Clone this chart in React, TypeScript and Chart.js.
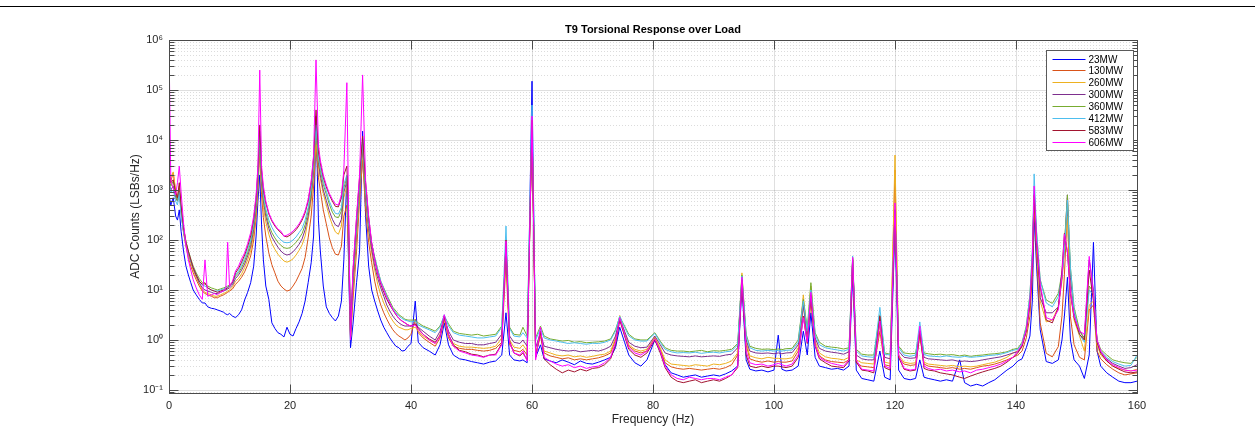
import React, { useEffect, useRef } from "react";
import { Chart, registerables } from "chart.js";

Chart.register(...registerables);

// ---------------- data ----------------
const FREQ_HZ = [
  0, 0.3, 0.7, 1.1, 1.4, 1.7, 2.0, 2.4, 2.8, 3.2, 3.6, 4.0, 4.5, 5.0, 5.5, 5.95, 6.4, 7.0, 7.5, 8.0, 8.5, 9.0, 9.4, 9.7, 10.0, 10.5, 11.0, 11.5, 12.0, 12.5, 13.0, 13.5, 14.0, 14.4, 14.7,
  15.0, 15.3, 15.6, 16.0, 16.5, 17.0, 17.5, 18.0, 18.5, 19.0, 19.5, 20.0, 20.5, 21.0, 21.5, 22.0, 22.5, 23.0, 23.5, 23.9,
  24.3, 24.7, 25.0, 25.5, 26.0, 26.5, 27.0, 27.5, 28.0, 28.5, 28.9, 29.4, 29.7, 30.0, 30.4, 31.0, 31.5, 32.0,
  32.5, 33.0, 33.5, 34.0, 34.5, 35.0, 35.5, 36.0, 36.5, 37.0, 37.5, 38.0, 38.5, 39.0, 39.5, 40.0,
  40.7, 41.2, 42, 43, 44, 44.8, 45.5, 46.2, 47, 48, 49, 50, 51, 52, 53, 54, 55, 55.7, 56.3, 57, 58, 58.5, 59.2, 60.0,
  60.6, 61.4, 62, 63, 64, 65, 66, 67, 68, 69, 70, 71, 72, 73, 73.8, 74.5, 75.3, 76, 77, 78, 79, 80.3,
  81.2, 82, 83, 84, 85, 86, 87, 88, 89, 90, 91, 92, 93, 94, 94.7, 95.4, 96, 97, 98, 99, 100,
  100.7, 101.3, 102, 103, 104, 104.85, 105.5, 106.1, 106.8, 107.5, 108.5, 109.5, 110.5, 111.5, 112.4, 113, 113.6, 114.5, 115.5, 116.5, 117.5, 118.3, 119.2, 120,
  120.6, 121.5, 122.5, 123.4, 124.1, 124.8, 125.5, 126.5, 127.5, 128.5, 129.5, 130.7, 131.5, 132.5, 133.5, 134.5, 135.5, 136.5, 137.5, 138.5, 139.5,
  140.3, 141, 141.7, 142.3, 142.7, 143, 143.4, 144, 145, 146, 147, 147.6, 148.0, 148.5, 149, 149.6, 150.5, 151.3, 152.1, 152.8, 153.4, 154, 155, 156, 157, 158, 159, 160,
];

const MW23 = [
  800, 500, 700, 300, 250, 400, 150, 60, 30, 20, 14, 10, 8, 6.5, 5.5, 5.5, 4.6, 4.3, 4.2, 4.0, 3.8, 3.6, 3.3, 3.2, 3.4, 3.0, 2.8, 3.2, 4, 6.3, 9, 14, 30, 120, 600,
  2000, 200, 40, 12, 6.5, 2.2, 1.7, 1.4, 1.3, 1.15, 1.8, 1.3, 1.2, 1.7, 2.3, 3.4, 6, 14, 35, 120,
  30000, 250, 63, 12, 4.6, 3.4, 2.8, 2.4, 3.0, 6, 40, 1900, 25, 0.7, 2, 14, 60, 15000,
  290, 30, 10, 6, 3.8, 2.5, 1.8, 1.4, 1.1, 0.9, 0.75, 0.7, 0.6, 0.62, 0.75, 0.85,
  6.0, 0.9, 0.7, 0.6, 0.5, 0.8, 2.2, 0.8, 0.5, 0.42, 0.4, 0.37, 0.35, 0.33, 0.36, 0.38, 0.5, 3.5, 0.5, 0.4, 0.38, 0.4, 0.35, 150000,
  0.45, 0.8, 0.42, 0.38, 0.35, 0.4, 0.36, 0.32, 0.38, 0.34, 0.33, 0.36, 0.4, 0.45, 0.7, 1.8, 0.9, 0.5, 0.35, 0.3, 0.4, 1.0,
  0.6, 0.32, 0.22, 0.2, 0.18, 0.19, 0.2, 0.18, 0.19, 0.2, 0.19, 0.21, 0.24, 0.3, 12, 0.4, 0.26, 0.24, 0.25, 0.23, 0.25,
  1.25, 0.26, 0.24, 0.25, 0.3, 1.5, 0.5, 3.5, 0.45, 0.3, 0.28, 0.26, 0.27, 0.25, 0.3, 20, 0.25, 0.17, 0.16, 0.15, 0.6, 0.18, 0.16, 200,
  0.25, 0.17, 0.16, 0.17, 0.4, 0.18, 0.17, 0.16, 0.15, 0.16, 0.15, 0.4, 0.14, 0.12, 0.13, 0.12, 0.14, 0.16, 0.2, 0.25, 0.3,
  0.38, 0.42, 0.7, 1.2, 6, 300, 30, 1.6, 0.37, 0.34, 0.4, 1.0, 3, 18, 1.0, 0.4, 0.3, 0.17, 0.5, 90, 0.6, 0.3, 0.22, 0.18, 0.15, 0.14, 0.14, 0.15,
];

const MW130 = [
  2500, 1500, 2200, 900, 600, 1000, 400, 140, 75, 45, 30, 22, 16, 12, 9.5, 8.5, 8, 7.5, 7, 7, 7.5, 8, 8.5, 9, 9.5, 10.5, 13, 15, 18, 23, 32, 48, 100, 280, 1000,
  6000, 800, 280, 120, 55, 32, 22, 15, 12, 10.5, 9.5, 10, 12, 15, 20, 27, 45, 110, 300, 1200,
  8000, 1800, 1000, 400, 210, 110, 70, 52, 50, 75, 300, 500, 40, 1.0, 6, 60, 600, 4000,
  400, 90, 35, 15, 8, 5, 3.5, 2.6, 2, 1.6, 1.35, 1.2, 1.1, 1.0, 1.1, 1.3,
  2.6, 1.4, 1.1, 0.9, 0.75, 1.1, 2.6, 1.1, 0.75, 0.68, 0.65, 0.65, 0.62, 0.6, 0.62, 0.68, 0.9, 35, 0.8, 0.62, 0.58, 0.65, 0.5, 20000,
  0.5, 1.2, 0.55, 0.48, 0.45, 0.42, 0.44, 0.4, 0.42, 0.4, 0.42, 0.44, 0.48, 0.55, 1.0, 2.7, 1.3, 0.75, 0.6, 0.55, 0.6, 1.1,
  0.65, 0.35, 0.29, 0.27, 0.26, 0.27, 0.26, 0.25, 0.26, 0.27, 0.26, 0.28, 0.32, 0.5, 17, 0.8, 0.42, 0.38, 0.36, 0.38, 0.36,
  0.37, 0.36, 0.36, 0.38, 0.6, 5, 1.0, 6, 0.8, 0.48, 0.4, 0.37, 0.36, 0.35, 0.4, 40, 0.35, 0.3, 0.29, 0.28, 1.5, 0.32, 0.3, 2500,
  0.45, 0.33, 0.31, 0.32, 1.2, 0.33, 0.3, 0.29, 0.28, 0.27, 0.28, 0.26, 0.27, 0.26, 0.28, 0.3, 0.31, 0.33, 0.36, 0.4, 0.45,
  0.5, 0.6, 1.1, 3, 20, 500, 50, 2.2, 0.54, 0.46, 0.74, 3, 20, 400, 2.9, 0.8, 0.45, 0.4, 4, 5, 0.6, 0.42, 0.32, 0.26, 0.22, 0.2, 0.21, 0.22,
];

const MW260 = [
  2000, 1800, 2300, 1000, 700, 1200, 400, 150, 80, 50, 35, 25, 18, 13, 10, 9, 8.5, 8, 7.5, 7.5, 8, 8.5, 9, 9.5, 10, 11.5, 15, 17, 21, 28, 40, 62, 130, 350, 1200,
  8000, 1200, 450, 230, 130, 85, 65, 52, 44, 38, 36, 38, 42, 50, 62, 80, 120, 250, 600, 2000,
  10000, 3000, 1700, 850, 500, 300, 200, 145, 130, 190, 700, 1200, 80, 1.1, 9, 110, 900, 6000,
  600, 140, 55, 25, 13, 8, 5.5, 4, 3, 2.4, 2.0, 1.8, 1.7, 1.6, 1.6, 1.7,
  1.8, 1.5, 1.2, 1.0, 0.85, 1.3, 2.8, 1.2, 0.85, 0.75, 0.72, 0.72, 0.7, 0.68, 0.7, 0.75, 1.1, 55, 1.0, 0.72, 0.68, 0.8, 0.6, 20000,
  0.55, 1.3, 0.6, 0.55, 0.5, 0.48, 0.5, 0.46, 0.48, 0.45, 0.47, 0.5, 0.52, 0.6, 1.1, 3.1, 1.4, 0.8, 0.65, 0.6, 0.65, 1.15,
  0.7, 0.4, 0.33, 0.32, 0.31, 0.3, 0.32, 0.31, 0.3, 0.33, 0.32, 0.34, 0.38, 0.55, 22, 0.9, 0.48, 0.44, 0.42, 0.45, 0.43,
  0.43, 0.42, 0.42, 0.44, 0.7, 8, 1.2, 12, 0.95, 0.55, 0.46, 0.43, 0.42, 0.4, 0.45, 44, 0.4, 0.35, 0.34, 0.33, 2.0, 0.36, 0.34, 5000,
  0.5, 0.36, 0.34, 0.35, 1.4, 0.36, 0.33, 0.32, 0.31, 0.3, 0.31, 0.29, 0.3, 0.29, 0.3, 0.32, 0.34, 0.36, 0.4, 0.45, 0.55,
  0.6, 0.75, 1.5, 5, 40, 700, 90, 6, 2.3, 2.5, 4.6, 15, 60, 300, 10, 2.5, 1.2, 0.6, 5, 6, 0.8, 0.5, 0.38, 0.3, 0.27, 0.25, 0.24, 0.26,
];

const MW300 = [
  1500, 1000, 1200, 700, 600, 1000, 350, 150, 85, 55, 38, 27, 19, 14, 11, 10, 9.5, 9, 8.5, 8.5, 9, 9.5, 10, 10.5, 11, 12.5, 17, 20, 25, 33, 48, 75, 160, 450, 1500,
  10000, 1500, 600, 300, 170, 115, 90, 72, 60, 53, 50, 52, 58, 68, 82, 105, 160, 300, 750, 2500,
  30000, 3500, 2000, 1000, 620, 380, 260, 200, 185, 260, 900, 1500, 100, 1.3, 12, 150, 1100, 8000,
  700, 170, 65, 30, 17, 11, 7.5, 5, 3.8, 3, 2.5, 2.2, 2.0, 1.9, 1.9, 1.9,
  2.1, 1.8, 1.5, 1.2, 1.0, 1.5, 2.8, 1.5, 1.0, 0.9, 0.85, 0.85, 0.8, 0.8, 0.85, 0.9, 1.3, 65, 1.2, 0.9, 0.85, 1.0, 0.75, 20000,
  0.7, 1.4, 0.75, 0.7, 0.65, 0.62, 0.6, 0.62, 0.58, 0.6, 0.62, 0.6, 0.65, 0.75, 1.2, 2.6, 1.5, 0.9, 0.75, 0.7, 0.72, 1.2,
  0.8, 0.55, 0.5, 0.48, 0.47, 0.46, 0.48, 0.46, 0.47, 0.48, 0.47, 0.5, 0.52, 0.7, 18, 1.0, 0.6, 0.55, 0.54, 0.55, 0.53,
  0.55, 0.53, 0.55, 0.56, 0.8, 5, 1.3, 9, 1.1, 0.68, 0.6, 0.57, 0.55, 0.52, 0.58, 42, 0.5, 0.42, 0.4, 0.4, 2.6, 0.45, 0.42, 400,
  0.6, 0.45, 0.43, 0.44, 1.5, 0.45, 0.42, 0.41, 0.4, 0.39, 0.4, 0.37, 0.38, 0.37, 0.38, 0.4, 0.42, 0.44, 0.46, 0.5, 0.55,
  0.58, 0.78, 1.6, 6, 45, 900, 110, 7, 3.5, 3.5, 4.6, 18, 70, 800, 18, 3.5, 1.5, 1.1, 40, 10, 0.95, 0.58, 0.42, 0.34, 0.3, 0.27, 0.28, 0.32,
];

const MW360 = [
  1800, 1200, 1500, 800, 600, 1100, 400, 170, 95, 60, 42, 30, 22, 17, 14, 13, 12, 11, 10.5, 10, 10.5, 11, 11.5, 12, 12.5, 14, 19, 22, 28, 38, 55, 90, 190, 500, 1800,
  12000, 1800, 700, 360, 200, 140, 110, 90, 78, 70, 68, 70, 78, 90, 108, 135, 200, 380, 900, 3000,
  15000, 4000, 2500, 1300, 820, 520, 360, 290, 280, 380, 1100, 1800, 120, 1.5, 16, 180, 1300, 9000,
  900, 210, 85, 45, 26, 15, 11, 8, 6, 4.5, 3.8, 3.2, 2.9, 2.6, 2.5, 2.5,
  2.5, 2.2, 1.9, 1.7, 1.5, 1.9, 3.0, 2.1, 1.5, 1.35, 1.3, 1.25, 1.3, 1.2, 1.25, 1.3, 1.9, 80, 1.8, 1.3, 1.25, 1.8, 1.2, 20000,
  1.1, 1.9, 1.2, 1.05, 1.0, 0.95, 0.98, 0.9, 0.93, 0.88, 0.9, 0.92, 0.95, 1.05, 1.6, 2.9, 1.9, 1.3, 1.05, 1.0, 1.0, 1.4,
  0.95, 0.7, 0.62, 0.6, 0.6, 0.58, 0.6, 0.62, 0.58, 0.61, 0.6, 0.62, 0.65, 0.85, 20, 1.3, 0.75, 0.68, 0.65, 0.66, 0.64,
  0.66, 0.64, 0.67, 0.68, 1.0, 6.5, 1.7, 14, 1.4, 0.9, 0.75, 0.72, 0.7, 0.66, 0.7, 45, 0.65, 0.52, 0.5, 0.5, 3.2, 0.55, 0.52, 400,
  0.75, 0.55, 0.53, 0.54, 1.6, 0.55, 0.53, 0.51, 0.52, 0.5, 0.51, 0.48, 0.5, 0.47, 0.49, 0.5, 0.52, 0.53, 0.55, 0.58, 0.65,
  0.68, 0.9, 1.9, 8, 55, 1000, 140, 16, 6.3, 5.4, 8.6, 22, 80, 800, 28, 4.5, 1.6, 1.0, 12, 9, 1.0, 0.65, 0.5, 0.4, 0.37, 0.35, 0.34, 0.45,
];

const MW412 = [
  1500, 900, 1000, 600, 500, 900, 300, 150, 85, 55, 38, 28, 20, 15, 12.5, 12, 11, 10, 9.5, 9.5, 10, 10.5, 11, 11.5, 12, 13.5, 20, 24, 32, 43, 65, 100, 220, 600, 2000,
  15000, 2000, 800, 420, 250, 180, 140, 115, 100, 90, 88, 90, 100, 115, 140, 170, 250, 450, 1100, 3500,
  20000, 4500, 2800, 1500, 950, 600, 430, 340, 330, 450, 1300, 2000, 150, 1.5, 18, 200, 1400, 10000,
  1000, 220, 85, 45, 25, 15, 10.5, 7.5, 5.5, 4.2, 3.5, 3.0, 2.7, 2.5, 2.4, 2.3,
  2.4, 2.0, 1.8, 1.6, 1.4, 1.8, 3.2, 1.9, 1.4, 1.25, 1.2, 1.15, 1.1, 1.1, 1.15, 1.2, 1.8, 190, 1.7, 1.2, 1.15, 1.4, 1.1, 50000,
  1.0, 1.7, 1.1, 1.0, 0.95, 0.9, 0.85, 0.88, 0.85, 0.82, 0.86, 0.85, 0.9, 1.0, 1.5, 3.0, 1.8, 1.2, 1.0, 0.95, 0.95, 1.35,
  0.9, 0.65, 0.58, 0.55, 0.56, 0.55, 0.57, 0.54, 0.56, 0.57, 0.55, 0.58, 0.6, 0.8, 19, 1.2, 0.7, 0.62, 0.6, 0.62, 0.6,
  0.62, 0.6, 0.62, 0.63, 0.9, 6, 1.5, 10, 1.3, 0.8, 0.7, 0.66, 0.63, 0.6, 0.65, 48, 0.6, 0.48, 0.46, 0.45, 4.5, 0.52, 0.5, 400,
  0.7, 0.5, 0.47, 0.5, 2.3, 0.52, 0.48, 0.47, 0.46, 0.48, 0.46, 0.45, 0.47, 0.45, 0.46, 0.47, 0.49, 0.5, 0.52, 0.56, 0.62,
  0.65, 0.85, 1.8, 8, 60, 2100, 150, 16, 5.5, 4.6, 7.4, 20, 60, 630, 28, 4, 1.3, 0.9, 10, 8, 0.9, 0.6, 0.45, 0.37, 0.33, 0.3, 0.31, 0.5,
];

const MW583 = [
  2500, 1400, 1600, 900, 700, 1400, 500, 180, 90, 60, 40, 28, 20, 15, 13, 14, 11, 10, 9.5, 9, 9.5, 10, 10.5, 11, 12, 14, 22, 27, 36, 50, 75, 120, 260, 700, 2500,
  20000, 2500, 1000, 550, 330, 240, 190, 160, 140, 120, 115, 125, 140, 160, 195, 250, 350, 600, 1400, 4500,
  40000, 6000, 3500, 1800, 1150, 800, 600, 470, 460, 700, 2000, 3000, 250, 1.2, 22, 270, 1800, 12000,
  1400, 280, 85, 40, 21, 13, 9, 6.5, 5, 4, 3.2, 2.7, 2.4, 2.2, 2.0, 1.9,
  2.1, 1.7, 1.3, 1.05, 0.9, 1.2, 3.0, 1.3, 0.8, 0.62, 0.58, 0.52, 0.5, 0.46, 0.5, 0.52, 0.85, 100, 0.95, 0.55, 0.48, 0.55, 0.4, 25000,
  0.45, 1.5, 0.42, 0.32, 0.26, 0.22, 0.25, 0.23, 0.26, 0.24, 0.27, 0.28, 0.32, 0.42, 0.8, 2.5, 1.2, 0.65, 0.5, 0.45, 0.55, 1.0,
  0.55, 0.28, 0.18, 0.15, 0.14, 0.15, 0.16, 0.14, 0.15, 0.16, 0.15, 0.17, 0.2, 0.28, 16, 0.5, 0.3, 0.28, 0.3, 0.28, 0.3,
  0.3, 0.29, 0.28, 0.3, 0.45, 3.0, 0.85, 8, 0.75, 0.42, 0.35, 0.3, 0.29, 0.28, 0.38, 40, 0.36, 0.25, 0.24, 0.22, 3.0, 0.28, 0.25, 400,
  0.45, 0.26, 0.24, 0.25, 1.5, 0.27, 0.25, 0.24, 0.22, 0.21, 0.2, 0.18, 0.17, 0.19, 0.21, 0.23, 0.25, 0.27, 0.3, 0.36, 0.45,
  0.55, 0.75, 1.5, 5, 35, 800, 90, 12, 2.5, 2.2, 4.5, 25, 135, 55, 8.6, 2.8, 1.3, 1.0, 25, 6, 0.9, 0.55, 0.38, 0.3, 0.26, 0.23, 0.22, 0.23,
];

const MW606 = [
  900000, 1500, 1100, 800, 1400, 3000, 900, 220, 80, 40, 25, 16, 11, 8, 6.5, 40, 7.5, 8, 8.5, 8, 9, 9.5, 11, 90, 12, 15, 24, 30, 42, 55, 85, 140, 300, 800, 3000,
  250000, 3000, 1200, 600, 350, 250, 200, 165, 150, 118, 125, 135, 150, 175, 210, 270, 380, 650, 1500, 5000,
  400000, 8000, 4000, 2000, 1260, 850, 650, 520, 500, 800, 2500, 140000, 300, 1.0, 25, 300, 2000, 200000,
  1500, 300, 90, 40, 22, 14, 10, 7, 5.5, 4, 3.3, 2.7, 2.4, 2.2, 2.0, 1.9,
  2.0, 1.6, 1.3, 1.0, 0.85, 1.2, 3.2, 1.3, 0.75, 0.6, 0.55, 0.5, 0.48, 0.45, 0.5, 0.5, 0.8, 95, 0.9, 0.55, 0.5, 0.6, 0.38, 30000,
  0.4, 1.8, 0.45, 0.38, 0.33, 0.3, 0.32, 0.28, 0.3, 0.27, 0.29, 0.3, 0.35, 0.45, 0.9, 2.8, 1.3, 0.7, 0.55, 0.5, 0.6, 1.05,
  0.6, 0.3, 0.2, 0.17, 0.16, 0.18, 0.17, 0.16, 0.17, 0.17, 0.16, 0.18, 0.2, 0.3, 18, 0.6, 0.35, 0.32, 0.33, 0.3, 0.32,
  0.34, 0.32, 0.3, 0.33, 0.5, 2.8, 0.9, 9, 0.8, 0.45, 0.38, 0.34, 0.32, 0.3, 0.4, 45, 0.4, 0.26, 0.25, 0.24, 2.4, 0.3, 0.27, 550,
  0.5, 0.27, 0.25, 0.26, 1.9, 0.3, 0.27, 0.25, 0.26, 0.24, 0.25, 0.23, 0.24, 0.22, 0.25, 0.26, 0.28, 0.3, 0.33, 0.38, 0.45,
  0.6, 0.8, 1.6, 6, 40, 1200, 100, 13, 2.8, 2.5, 4, 20, 130, 60, 9, 3, 1.5, 1.3, 47, 8, 1.0, 0.6, 0.4, 0.32, 0.28, 0.25, 0.24, 0.25,
];

const SERIES_LABELS = ["23MW", "130MW", "260MW", "300MW", "360MW", "412MW", "583MW", "606MW"];
const SERIES_VALUES = [MW23, MW130, MW260, MW300, MW360, MW412, MW583, MW606];
const X_TICK_VALUES = [0, 20, 40, 60, 80, 100, 120, 140, 160];
const Y_TICK_POWERS = [-1, 0, 1, 2, 3, 4, 5, 6];
const TITLE = "T9 Torsional Response over Load";
const X_LABEL = "Frequency (Hz)";
const Y_LABEL = "ADC Counts (LSBs/Hz)";

// ---------------- styles ----------------
const COLORS = ["#0000FF", "#D95319", "#EDB120", "#7E2F8E", "#77AC30", "#4DBEEE", "#A2142F", "#FF00FF"];
const FONT = '"Liberation Sans", Arial, Helvetica, sans-serif';
const AXIS_COLOR = "#262626";
const BOX_COLOR = "#4a4a4a";
const Y_MIN = 0.087;
const Y_MAX = 1e6;

const SUP: Record<string, string> = {
  "-": "\u207B", "0": "\u2070", "1": "\u00B9", "2": "\u00B2", "3": "\u00B3",
  "4": "\u2074", "5": "\u2075", "6": "\u2076", "7": "\u2077", "8": "\u2078", "9": "\u2079",
};
const supText = (n: number) => String(n).split("").map((c) => SUP[c] || c).join("");

const framePlugin = {
  id: "matlabFrame",
  beforeDatasetsDraw(chart: any) {
    const { ctx, chartArea: a, scales } = chart;
    const xs = scales.x;
    const ys = scales.y;
    ctx.save();
    ctx.lineWidth = 1;
    // minor y grid (dotted)
    ctx.strokeStyle = "rgba(38,38,38,0.16)";
    ctx.setLineDash([1, 2]);
    for (let p = -2; p <= 5; p++) {
      for (let k = 2; k <= 9; k++) {
        const v = k * Math.pow(10, p);
        if (v <= Y_MIN || v >= Y_MAX) continue;
        const y = Math.round(ys.getPixelForValue(v)) + 0.5;
        ctx.beginPath();
        ctx.moveTo(a.left, y);
        ctx.lineTo(a.right, y);
        ctx.stroke();
      }
    }
    ctx.setLineDash([]);
    // major grid
    ctx.strokeStyle = "rgba(38,38,38,0.15)";
    Y_TICK_POWERS.forEach((p) => {
      const y = Math.round(ys.getPixelForValue(Math.pow(10, p))) + 0.5;
      ctx.beginPath();
      ctx.moveTo(a.left, y);
      ctx.lineTo(a.right, y);
      ctx.stroke();
    });
    X_TICK_VALUES.forEach((v) => {
      const x = Math.round(xs.getPixelForValue(v)) + 0.5;
      ctx.beginPath();
      ctx.moveTo(x, a.top);
      ctx.lineTo(x, a.bottom);
      ctx.stroke();
    });
    ctx.restore();
  },
  afterDatasetsDraw(chart: any) {
    const { ctx, chartArea: a, scales } = chart;
    const xs = scales.x;
    const ys = scales.y;
    ctx.save();
    ctx.lineWidth = 1;
    ctx.strokeStyle = BOX_COLOR;
    const L = Math.round(a.left) + 0.5;
    const R = Math.round(a.right) + 0.5;
    const T = Math.round(a.top) + 0.5;
    const B = Math.round(a.bottom) + 0.5;
    ctx.strokeRect(L, T, R - L, B - T);
    // y ticks (inside, both sides)
    for (let p = -2; p <= 6; p++) {
      for (let k = 1; k <= 9; k++) {
        const v = k * Math.pow(10, p);
        if (v < Y_MIN || v > Y_MAX) continue;
        const len = k === 1 ? 9 : 5;
        const y = Math.round(ys.getPixelForValue(v)) + 0.5;
        ctx.beginPath();
        ctx.moveTo(L, y);
        ctx.lineTo(L + len, y);
        ctx.moveTo(R, y);
        ctx.lineTo(R - len, y);
        ctx.stroke();
      }
    }
    X_TICK_VALUES.forEach((v) => {
      const x = Math.round(xs.getPixelForValue(v)) + 0.5;
      ctx.beginPath();
      ctx.moveTo(x, B);
      ctx.lineTo(x, B - 9);
      ctx.moveTo(x, T);
      ctx.lineTo(x, T + 9);
      ctx.stroke();
    });
    ctx.restore();
  },
  afterDraw(chart: any) {
    const { ctx, chartArea: a } = chart;
    ctx.save();
    // title
    ctx.fillStyle = "#000";
    ctx.font = `bold 11px ${FONT}`;
    ctx.textAlign = "center";
    ctx.textBaseline = "middle";
    ctx.fillText(TITLE, (a.left + a.right) / 2, 29.5);
    // legend
    const bx = 1046.5, by = 50.5, bw = 87, bh = 100;
    ctx.fillStyle = "#fff";
    ctx.fillRect(bx, by, bw, bh);
    ctx.strokeStyle = "#5a5a5a";
    ctx.lineWidth = 1;
    ctx.strokeRect(bx, by, bw, bh);
    ctx.font = `10px ${FONT}`;
    ctx.textAlign = "left";
    ctx.textBaseline = "middle";
    SERIES_LABELS.forEach((label, i) => {
      const y = Math.round(by + 8 + i * 11.9) + 0.5;
      ctx.strokeStyle = COLORS[i];
      ctx.lineWidth = 1;
      ctx.beginPath();
      ctx.moveTo(bx + 6, y);
      ctx.lineTo(bx + 39, y);
      ctx.stroke();
      ctx.fillStyle = "#000";
      ctx.fillText(label, bx + 42, y + 0.5);
    });
    ctx.restore();
  },
};

export default function App() {
  const canvasRef = useRef<HTMLCanvasElement | null>(null);

  useEffect(() => {
    const canvas = canvasRef.current;
    if (!canvas) return;
    const datasets = SERIES_VALUES.map((vals, i) => ({
      label: SERIES_LABELS[i],
      data: FREQ_HZ.map((f, j) => ({ x: f, y: vals[j] })),
      borderColor: COLORS[i],
      backgroundColor: COLORS[i],
      borderWidth: 1,
      pointRadius: 0,
      tension: 0,
      fill: false,
      order: SERIES_VALUES.length - 1 - i,
    }));
    const chart = new Chart(canvas, {
      type: "line",
      data: { datasets },
      options: {
        animation: false,
        responsive: false,
        maintainAspectRatio: false,
        events: [],
        layout: { padding: { left: 124, right: 118, top: 40, bottom: 9 } },
        plugins: {
          legend: { display: false },
          tooltip: { enabled: false },
          title: { display: false },
        },
        scales: {
          x: {
            type: "linear",
            min: 0,
            max: 160,
            afterBuildTicks: (s: any) => {
              s.ticks = X_TICK_VALUES.map((v) => ({ value: v }));
            },
            ticks: {
              autoSkip: false,
              maxRotation: 0,
              padding: 6,
              color: AXIS_COLOR,
              font: { size: 11, family: FONT },
              callback: (v: any) => String(v),
            },
            grid: { display: false, drawTicks: false },
            border: { display: false },
            title: {
              display: true,
              text: X_LABEL,
              color: AXIS_COLOR,
              font: { size: 12, family: FONT },
              padding: { top: 0, bottom: 4 },
            },
            afterFit: (s: any) => {
              s.height = 38;
            },
          },
          y: {
            type: "logarithmic",
            min: Y_MIN,
            max: Y_MAX,
            afterBuildTicks: (s: any) => {
              s.ticks = Y_TICK_POWERS.map((p) => ({ value: Math.pow(10, p) }));
            },
            ticks: {
              autoSkip: false,
              padding: 6,
              color: AXIS_COLOR,
              font: { size: 11, family: FONT },
              callback: (v: any) => {
                const p = Math.round(Math.log10(v));
                return "10" + supText(p);
              },
            },
            grid: { display: false, drawTicks: false },
            border: { display: false },
            title: {
              display: true,
              text: Y_LABEL,
              color: AXIS_COLOR,
              font: { size: 12, family: FONT },
              padding: { top: 4, bottom: 0 },
            },
            afterFit: (s: any) => {
              s.width = 45;
            },
          },
        },
      },
      plugins: [framePlugin],
    } as any);
    return () => chart.destroy();
  }, []);

  return (
    <div style={{ position: "fixed", left: 0, top: 0, width: 1255, height: 440, background: "#fff" }}>
      <div style={{ position: "absolute", left: 0, top: 6, width: 1255, height: 1, background: "#000" }} />
      <canvas ref={canvasRef} width={1255} height={440} style={{ position: "absolute", left: 0, top: 0, display: "block" }} />
    </div>
  );
}
